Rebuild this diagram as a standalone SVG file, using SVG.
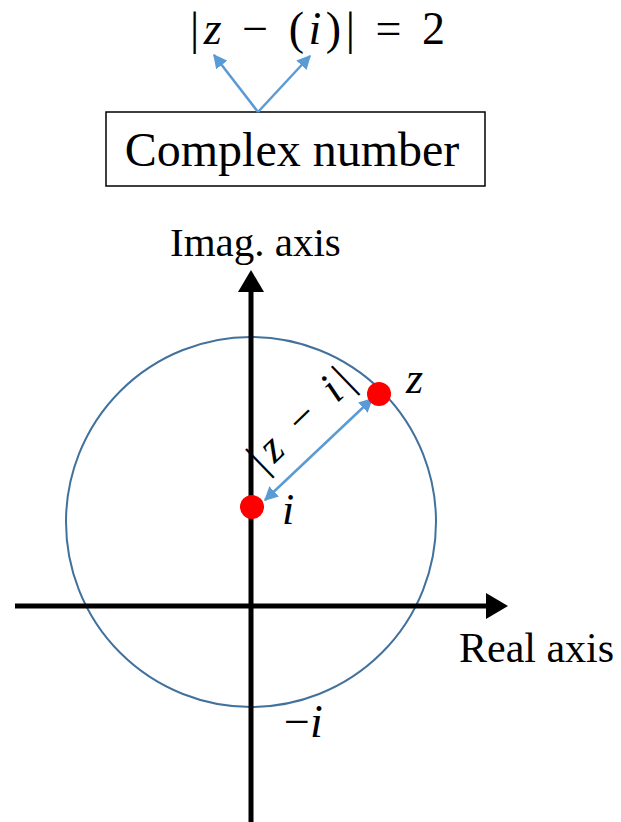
<svg xmlns="http://www.w3.org/2000/svg" width="621" height="822" viewBox="0 0 621 822">
<style>
.t{font-family:"Liberation Serif","Times New Roman",serif;fill:#000}
.m{font-family:"Liberation Serif","Times New Roman",serif;fill:#000}
.it{font-style:italic}
.blue{stroke:#5B9BD5;stroke-width:2.5;fill:none}
.axis{stroke:#000;stroke-width:5;fill:none}
</style>
<defs>
<marker id="ba" viewBox="0 0 10 10" refX="9" refY="5" markerWidth="14" markerHeight="14" markerUnits="userSpaceOnUse" orient="auto-start-reverse">
<path d="M0,0 L10,5 L0,10 z" fill="#5B9BD5"/>
</marker>
</defs>
<g id="formula">
<text class="m" x="190" y="44" font-size="46" textLength="255" lengthAdjust="spacing">|<tspan class="it">z</tspan> − (<tspan class="it">i</tspan>)| = 2</text>
</g>
<g id="complex-number">
<rect x="106" y="112" width="379" height="74" fill="#fff" stroke="#000" stroke-width="1.5"/>
<text class="t" x="292" y="166" font-size="48" text-anchor="middle">Complex number</text>
</g>
<g id="connectors">
<line class="blue" x1="258" y1="112" x2="214" y2="55" marker-end="url(#ba)"/>
<line class="blue" x1="258" y1="112" x2="310" y2="56" marker-end="url(#ba)"/>
<line class="blue" x1="265" y1="500" x2="372" y2="399" marker-start="url(#ba)" marker-end="url(#ba)"/>
</g>
<g id="plane">
<circle cx="251" cy="522" r="185" fill="none" stroke="#41719C" stroke-width="2"/>
<line class="axis" x1="15" y1="606" x2="490" y2="606"/>
<path d="M486,593 L508,606 L486,619 z" fill="#000"/>
<line class="axis" x1="251" y1="822" x2="251" y2="288"/>
<path d="M238,292 L251,270 L264,292 z" fill="#000"/>
<text class="t" x="170" y="256" font-size="41">Imag. axis</text>
<text class="t" x="459" y="662" font-size="42">Real axis</text>
</g>
<g id="point-i">
<circle cx="252" cy="507" r="12" fill="#FF0000"/>
<text class="m it" x="282" y="524" font-size="44">i</text>
</g>
<g id="point-z">
<circle cx="379" cy="394" r="12" fill="#FF0000"/>
<text class="m it" x="406" y="393" font-size="44">z</text>
</g>
<g id="label-dist">
<text class="m" transform="translate(264,474) rotate(-44)" font-size="44" textLength="128" lengthAdjust="spacing">|<tspan class="it">z</tspan> − <tspan class="it">i</tspan>|</text>
</g>
<g id="label-minus-i">
<text class="m" x="284" y="737" font-size="46">−<tspan class="it">i</tspan></text>
</g>
</svg>
